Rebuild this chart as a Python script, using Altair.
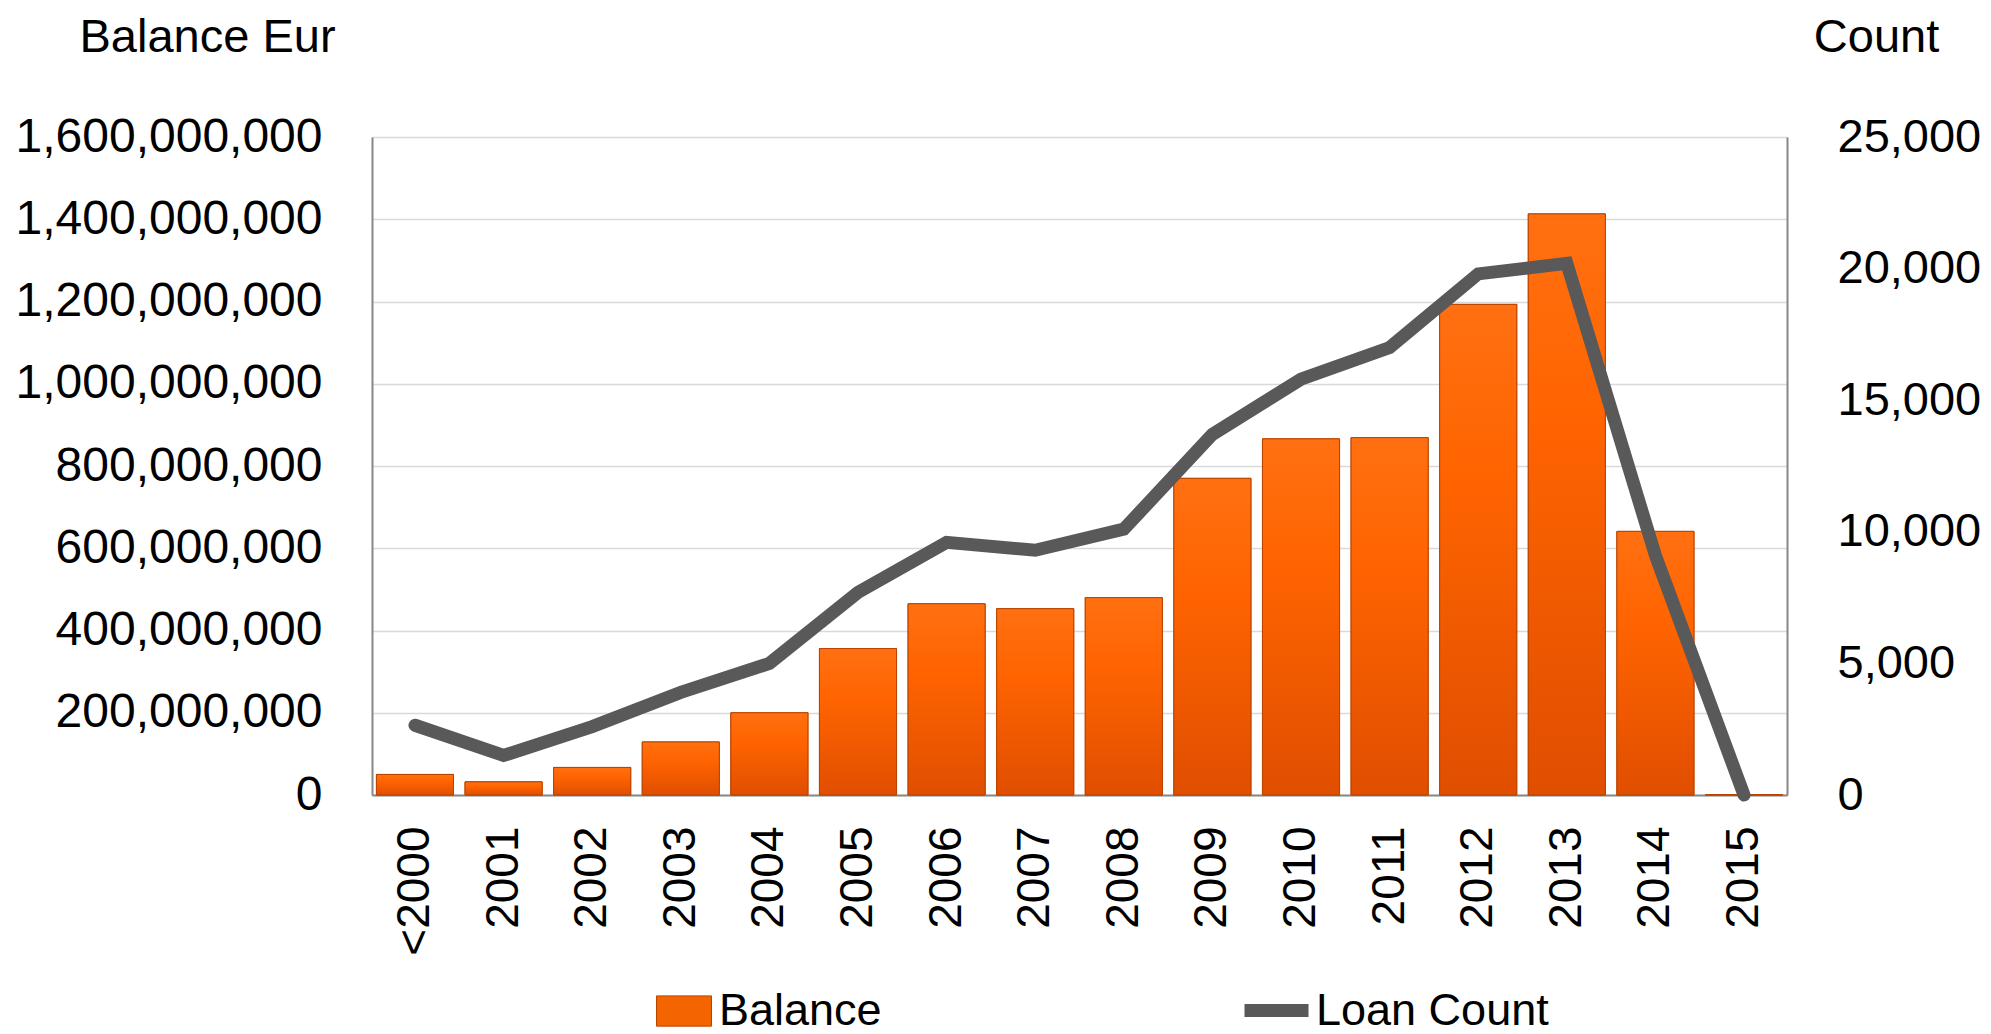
import altair as alt
import pandas as pd

years = ["<2000", "2001", "2002", "2003", "2004", "2005", "2006", "2007",
         "2008", "2009", "2010", "2011", "2012", "2013", "2014", "2015"]
balance = [50e6, 32e6, 67e6, 129e6, 200e6, 356e6, 465e6, 453e6,
           480e6, 770e6, 866e6, 869e6, 1193e6, 1413e6, 641e6, 1e6]
loan_count = [2650, 1500, 2600, 3900, 5000, 7700, 9600, 9300,
              10100, 13700, 15800, 17000, 19800, 20200, 9100, 0]
left_ticks = [0, 200e6, 400e6, 600e6, 800e6, 1000e6, 1200e6, 1400e6, 1600e6]
right_ticks = [0, 5000, 10000, 15000, 20000, 25000]

df = pd.DataFrame({
    "year": years,
    "balance": balance,
    "count": loan_count,
    "bal_label": ["Balance"] * len(years),
    "cnt_label": ["Loan Count"] * len(years),
})

FONT = "Liberation Sans"
ORANGE = "#F46400"
EDGE = "#B84400"
GREY = "#595959"

x_enc = alt.X(
    "year:N", sort=years,
    scale=alt.Scale(paddingInner=0.13, paddingOuter=0.05),
    axis=alt.Axis(title=None, labelAngle=-90, labelAlign="right", labelBaseline="middle",
                  labelPadding=31, labelFontSize=46, labelColor="black", labelFont=FONT,
                  ticks=False, domain=True, domainColor="#878787", domainWidth=2, grid=False),
)

y_left = alt.Y(
    "balance:Q",
    scale=alt.Scale(domain=[0, 1.6e9], nice=False),
    axis=alt.Axis(values=left_ticks, format=",.0f", labelFontSize=48, labelColor="black",
                  labelFont=FONT, labelPadding=50, ticks=False, domainColor="#878787",
                  domainWidth=2, gridColor="#D9D9D9", gridWidth=1.5, labelLimit=0,
                  title="Balance Eur", titleAngle=0, titleX=-165, titleY=-86,
                  titleFontSize=47, titleFontWeight="normal", titleFont=FONT,
                  titleColor="black", titleAlign="center", titleBaseline="alphabetic"),
)

grad = alt.Gradient(
    gradient="linear",
    stops=[alt.GradientStop(color="#FF7012", offset=0),
           alt.GradientStop(color="#FF6400", offset=0.35),
           alt.GradientStop(color="#E04E00", offset=1)],
    x1=0, x2=0, y1=0, y2=1,
)

bars_legend = alt.Chart(df).mark_bar(stroke=EDGE, strokeWidth=1).encode(
    x=x_enc,
    y=y_left,
    color=alt.Color(
        "bal_label:N",
        scale=alt.Scale(range=[ORANGE]),
        legend=alt.Legend(title=None, orient="none", legendX=284, legendY=846,
                          symbolType="M-1,-0.55L1,-0.55L1,0.55L-1,0.55Z", symbolSize=3025,
                          symbolStrokeColor=EDGE, symbolStrokeWidth=1, symbolOpacity=1,
                          labelFontSize=45, labelFont=FONT, labelColor="black",
                          labelOffset=7, labelLimit=0, padding=0),
    ),
)

bars_grad = alt.Chart(df).mark_bar(color=grad, stroke=EDGE, strokeWidth=1).encode(
    x=x_enc,
    y=alt.Y("balance:Q"),
)

line = alt.Chart(df).mark_line(strokeWidth=13, strokeJoin="miter", strokeCap="round").encode(
    x=x_enc,
    y=alt.Y(
        "count:Q",
        scale=alt.Scale(domain=[0, 25000], nice=False),
        axis=alt.Axis(orient="right", values=right_ticks, format=",.0f", labelFontSize=47,
                      labelColor="black", labelFont=FONT, labelPadding=50, ticks=False,
                      domainColor="#878787", domainWidth=2, grid=False, labelLimit=0,
                      title="Count", titleAngle=0, titleX=89, titleY=-86,
                      titleFontSize=47, titleFontWeight="normal", titleFont=FONT,
                      titleColor="black", titleAlign="center", titleBaseline="alphabetic"),
    ),
    color=alt.Color(
        "cnt_label:N",
        scale=alt.Scale(range=[GREY]),
        legend=alt.Legend(title=None, orient="none", legendX=866, legendY=835,
                          symbolType="stroke", symbolSize=4096, symbolStrokeWidth=13,
                          labelFontSize=45, labelFont=FONT, labelColor="black",
                          labelOffset=1, labelLimit=0, padding=0),
    ),
)

left_layer = alt.layer(bars_legend, bars_grad)

chart = alt.layer(left_layer, line).resolve_scale(
    y="independent", color="independent"
).properties(
    width=1415, height=658,
    padding={"left": 7, "top": 5, "right": 0, "bottom": 0},
).configure_view(stroke=None).configure(font=FONT)

chart.save("out.html", embed_options={"renderer": "svg", "actions": False})
